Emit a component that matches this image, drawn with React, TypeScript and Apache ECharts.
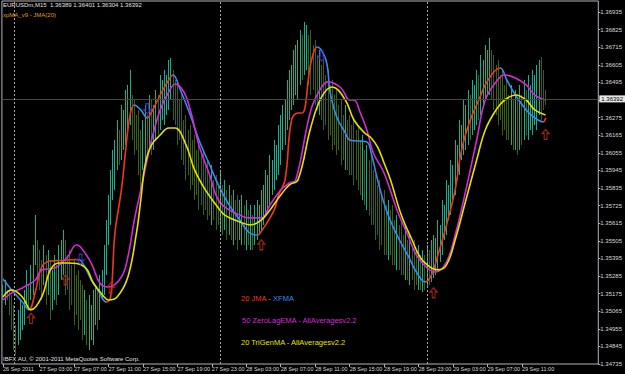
import React, { useEffect, useRef } from "react";
import * as echarts from "echarts";

// price = BASE + points * PT
const BASE = 1.3;
const PT = 0.00001;

// M15 bars, first bar = 26 Sep 22:45 (high / low, in points above 1.30000)
const barHighPts = [
  5229, 5260, 5198, 5198, 5166, 5104, 4979, 5073, 5135, 5104,
  5198, 5323, 5229, 5354, 5479, 5666, 5510, 5448, 5385, 5479,
  5416, 5448, 5385, 5323, 5416, 5354, 5479, 5510, 5573, 5510,
  5416, 5448, 5354, 5385, 5291, 5323, 5260, 5229, 5198, 5135,
  5166, 5104, 5198, 5229, 5198, 5291, 5323, 5479, 5635, 5791,
  5948, 6073, 6135, 6260, 6198, 6354, 6323, 6448, 6479, 6573,
  6416, 6385, 6291, 6323, 6198, 6260, 6354, 6291, 6416, 6385,
  6354, 6448, 6416, 6541, 6510, 6573, 6541, 6635, 6648, 6573,
  6510, 6479, 6385, 6416, 6260, 6291, 6198, 6229, 6135, 6166,
  6073, 6104, 6041, 6073, 5979, 6010, 5916, 5979, 5885, 5916,
  5854, 5948, 5854, 5885, 5823, 5854, 5791, 5823, 5760, 5791,
  5760, 5791, 5729, 5760, 5698, 5729, 5666, 5729, 5760, 5729,
  5823, 5854, 5948, 5916, 6041, 6010, 6135, 6104, 6229, 6291,
  6354, 6385, 6510, 6573, 6604, 6698, 6729, 6760, 6823, 6791,
  6873, 6854, 6791, 6823, 6729, 6760, 6666, 6698, 6604, 6635,
  6541, 6573, 6479, 6510, 6416, 6448, 6354, 6385, 6291, 6354,
  6260, 6291, 6229, 6260, 6198, 6229, 6135, 6166, 6073, 6104,
  6010, 6041, 5948, 5916, 5854, 5885, 5791, 5823, 5729, 5760,
  5698, 5729, 5635, 5666, 5604, 5635, 5541, 5604, 5510, 5541,
  5479, 5510, 5448, 5479, 5416, 5448, 5416, 5479, 5448, 5510,
  5541, 5523, 5635, 5604, 5760, 5729, 5885, 5854, 6010, 5979,
  6135, 6104, 6260, 6229, 6385, 6354, 6448, 6416, 6510, 6479,
  6573, 6541, 6666, 6635, 6729, 6698, 6773, 6698, 6666, 6604,
  6635, 6541, 6573, 6479, 6510, 6416, 6479, 6385, 6448, 6385,
  6479, 6416, 6510, 6448, 6541, 6479, 6573, 6541, 6604, 6635,
  6654, 6573, 6448,
];
const barLowPts = [
  5135, 5104, 5135, 5041, 4948, 4823, 4791, 4854, 4885, 4948,
  4979, 5104, 5073, 5135, 5166, 5354, 5260, 5198, 5135, 5229,
  5104, 5166, 5010, 5073, 5135, 5104, 5166, 5260, 5291, 5166,
  5198, 5073, 5104, 4979, 5041, 4948, 5010, 4885, 4916, 4854,
  4823, 4885, 4854, 4979, 4948, 5010, 5135, 5166, 5291, 5479,
  5604, 5760, 5823, 5948, 5979, 6010, 6073, 6104, 6166, 6229,
  6135, 6041, 6073, 5916, 5823, 5948, 5979, 6010, 6073, 6041,
  6073, 6135, 6166, 6198, 6260, 6229, 6291, 6323, 6385, 6260,
  6229, 6104, 6135, 6010, 5979, 5885, 5916, 5823, 5854, 5760,
  5791, 5698, 5729, 5666, 5698, 5635, 5666, 5604, 5635, 5573,
  5604, 5573, 5541, 5573, 5510, 5541, 5510, 5479, 5510, 5448,
  5510, 5479, 5479, 5448, 5479, 5448, 5448, 5479, 5510, 5541,
  5573, 5604, 5666, 5698, 5729, 5791, 5823, 5885, 5916, 5979,
  6073, 6104, 6198, 6260, 6323, 6354, 6416, 6385, 6479, 6510,
  6541, 6573, 6479, 6416, 6448, 6354, 6323, 6291, 6260, 6198,
  6229, 6135, 6166, 6073, 6104, 6041, 6073, 5979, 6010, 5948,
  5948, 5916, 5916, 5854, 5885, 5823, 5791, 5760, 5729, 5698,
  5666, 5604, 5604, 5510, 5541, 5448, 5479, 5416, 5416, 5385,
  5416, 5354, 5354, 5323, 5323, 5291, 5291, 5260, 5260, 5229,
  5260, 5198, 5229, 5198, 5198, 5185, 5198, 5210, 5229, 5248,
  5273, 5291, 5323, 5373, 5416, 5510, 5541, 5635, 5666, 5760,
  5791, 5885, 5916, 6010, 6041, 6073, 6104, 6135, 6166, 6198,
  6229, 6260, 6291, 6354, 6385, 6416, 6416, 6385, 6323, 6291,
  6229, 6260, 6166, 6198, 6135, 6135, 6104, 6073, 6073, 6041,
  6073, 6104, 6135, 6166, 6135, 6198, 6166, 6229, 6198, 6291,
  6260, 6323, 6354,
];

// 20 JMA - XFMA (red rising / blue falling)
const xfmaIdx = [0, 4, 9, 12, 15, 18, 22, 26, 30, 35, 38, 41, 44, 48, 50, 52, 55, 57, 59, 61, 64, 67, 69, 73, 77, 79, 82, 87, 91, 96, 100, 105, 110, 114, 118, 121, 126, 128, 131, 134, 137, 139, 143, 146, 150, 152, 155, 159, 161, 169, 171, 174, 178, 183, 188, 192, 196, 199, 202, 206, 210, 213, 217, 221, 224, 228, 231, 234, 238, 243, 247, 251, 252];
const xfmaPts = [5266, 5198, 5123, 5073, 5185, 5341, 5379, 5382, 5385, 5388, 5341, 5260, 5198, 5123, 5154, 5554, 5823, 6073, 6291, 6354, 6323, 6273, 6310, 6416, 6510, 6541, 6460, 6291, 6135, 5979, 5854, 5729, 5635, 5560, 5541, 5585, 5698, 5791, 5885, 6260, 6304, 6304, 6616, 6716, 6635, 6429, 6279, 6179, 6135, 6123, 6054, 5885, 5698, 5541, 5416, 5310, 5248, 5291, 5416, 5604, 5823, 6073, 6260, 6385, 6479, 6560, 6585, 6510, 6416, 6323, 6273, 6248, 6273];

// 50 ZeroLagEMA
const zlIdx = [0, 4, 9, 15, 18, 24, 30, 34, 36, 41, 45, 49, 55, 58, 61, 64, 66, 69, 73, 77, 80, 84, 87, 91, 96, 100, 105, 110, 114, 120, 124, 129, 133, 136, 143, 148, 151, 157, 161, 163, 166, 169, 172, 177, 183, 188, 192, 197, 201, 206, 210, 215, 220, 224, 229, 233, 238, 243, 247, 252];
const zlPts = [5135, 5179, 5210, 5260, 5323, 5335, 5404, 5479, 5466, 5366, 5241, 5216, 5279, 5404, 5635, 5823, 5948, 6135, 6323, 6435, 6485, 6435, 6323, 6104, 5916, 5760, 5698, 5666, 5648, 5648, 5729, 5823, 5866, 5885, 6323, 6466, 6498, 6460, 6385, 6385, 6304, 6198, 6054, 5929, 5698, 5541, 5416, 5335, 5310, 5373, 5541, 5823, 6135, 6385, 6498, 6541, 6523, 6479, 6416, 6385];

// 20 TriGenMA
const tgIdx = [0, 4, 9, 13, 18, 22, 26, 30, 38, 42, 47, 49, 53, 58, 62, 64, 66, 69, 73, 77, 80, 85, 89, 94, 99, 103, 110, 115, 120, 124, 129, 133, 137, 143, 148, 153, 159, 163, 168, 171, 174, 177, 180, 185, 190, 194, 199, 202, 206, 210, 215, 220, 224, 229, 233, 238, 243, 247, 252];
const tgPts = [5154, 5198, 5154, 5073, 5154, 5323, 5366, 5366, 5341, 5241, 5154, 5135, 5154, 5279, 5554, 5760, 5979, 6104, 6166, 6210, 6210, 6104, 5948, 5823, 5729, 5666, 5623, 5604, 5635, 5698, 5791, 5854, 5885, 6216, 6404, 6466, 6385, 6260, 6179, 6148, 6091, 5991, 5885, 5666, 5510, 5398, 5335, 5323, 5354, 5510, 5760, 6010, 6198, 6323, 6385, 6416, 6385, 6323, 6291];

// signal arrows
const upArrowIdx = [13, 29, 50, 120, 200, 252];
const upArrowPts = [5020, 5260, 5210, 5480, 5180, 6170];
const downArrowIdx = [36, 67, 148];
const downArrowPts = [5390, 6330, 6660];

const yTickLabels = ["1.34735", "1.34845", "1.34955", "1.35065", "1.35175", "1.35285", "1.35395", "1.35505", "1.35615", "1.35725", "1.35835", "1.35945", "1.36055", "1.36165", "1.36275", "", "1.36495", "1.36605", "1.36715", "1.36825", "1.36935"];
const timeLabels = ["27 Sep 03:00", "27 Sep 07:00", "27 Sep 11:00", "27 Sep 15:00", "27 Sep 19:00", "27 Sep 23:00", "28 Sep 03:00", "28 Sep 07:00", "28 Sep 11:00", "28 Sep 15:00", "28 Sep 19:00", "28 Sep 23:00", "29 Sep 03:00", "29 Sep 07:00", "29 Sep 11:00"];
const firstLabel = "26 Sep 2011";
const daySeparators = ["27 Sep 00:00", "28 Sep 00:00", "29 Sep 00:00"];
const currentPrice = 1.36392;
const slotCount = 277;

const RED = "#ee3a12";
const BLUE = "#2f8fee";
const MAGENTA = "#d42ad4";
const YELLOW = "#e6e000";
const UP = "#1bae8c";
const DOWN = "#3a5e1c";
const FONT = "Liberation Sans";

const pad = (n: number) => (n < 10 ? "0" + n : "" + n);
const categories: string[] = [];
for (let i = 0; i < slotCount; i++) {
  const m = 22 * 60 + 45 + 15 * i;
  const d = 26 + Math.floor(m / 1440);
  const mm = m % 1440;
  categories.push(`${d} Sep ${pad(Math.floor(mm / 60))}:${pad(mm % 60)}`);
}

const toPrice = (p: number) => +(BASE + p * PT).toFixed(5);

export default function App() {
  const ref = useRef<HTMLDivElement>(null);
  useEffect(() => {
    document.body.style.margin = "0";
    document.body.style.background = "#000";
    const chart = echarts.init(ref.current!, null, { renderer: "svg" });

    const upBars: number[][] = [];
    const downBars: number[][] = [];
    barHighPts.forEach((h, i) => {
      const lo = barLowPts[i];
      const mid = (h + lo) / 2;
      const prev = i > 0 ? (barHighPts[i - 1] + barLowPts[i - 1]) / 2 : mid;
      (mid >= prev ? upBars : downBars).push([i, toPrice(lo), toPrice(h)]);
    });

    const barSeries = (data: number[][], color: string) => ({
      type: "custom",
      yAxisIndex: 0,
      data,
      encode: { x: 0, y: [1, 2] },
      itemStyle: { color },
      z: 1,
      renderItem: (params: any, api: any) => {
        const i = api.value(0);
        const lo = api.coord([i, api.value(1)]);
        const hi = api.coord([i, api.value(2)]);
        return {
          type: "rect",
          shape: { x: Math.round(lo[0] - 0.5), y: hi[1], width: 1, height: Math.max(1, lo[1] - hi[1]) },
          style: { fill: api.visual("color") },
        };
      },
    });

    const xfmaPieces: any[] = [];
    for (let k = 1; k < xfmaIdx.length; k++) {
      const rising = xfmaPts[k] >= xfmaPts[k - 1];
      const last = k === xfmaIdx.length - 1;
      xfmaPieces.push(
        last
          ? { gte: xfmaIdx[k - 1], lte: xfmaIdx[k] + 1, color: rising ? RED : BLUE }
          : { gte: xfmaIdx[k - 1], lt: xfmaIdx[k], color: rising ? RED : BLUE }
      );
    }

    const showLabel = (idx: number, val: string) => idx === 0 || timeLabels.includes(val);
    const arrowPath = "path://M5,0 L10,5 L7,5 L7,12 L3,12 L3,5 L0,5 Z";

    const option: any = {
      animation: false,
      backgroundColor: "#000",
      textStyle: { fontFamily: FONT },
      grid: { left: 0, top: 1, width: 604, height: 363, show: true, borderColor: "#b4b4b4", borderWidth: 1, backgroundColor: "#000" },
      xAxis: {
        type: "category",
        data: categories,
        boundaryGap: true,
        axisLine: { show: false },
        axisTick: { show: true, interval: showLabel, alignWithLabel: true, length: 3, lineStyle: { color: "#b4b4b4" } },
        axisLabel: {
          interval: showLabel,
          formatter: (v: string) => (v === categories[0] ? firstLabel : v),
          color: "#d8d8d8",
          fontSize: 5.5,
          fontFamily: FONT,
          align: "left",
          margin: 2,
        },
        splitLine: { show: false },
      },
      yAxis: [
        { type: "value", min: toPrice(4735), max: 1.3700375, show: false },
        {
          type: "value",
          min: 0,
          max: 20.625,
          interval: 1,
          position: "right",
          axisLine: { show: false },
          axisTick: { show: true, length: 2, lineStyle: { color: "#b4b4b4" } },
          axisLabel: {
            showMaxLabel: false,
            formatter: (v: number) => yTickLabels[Math.round(v)] ?? "",
            color: "#d8d8d8",
            fontSize: 6,
            fontFamily: FONT,
            margin: 2,
          },
          splitLine: { show: false },
        },
      ],
      visualMap: [
        { type: "piecewise", show: false, dimension: 0, seriesIndex: 2, pieces: xfmaPieces },
      ],
      series: [
        barSeries(upBars, UP),
        barSeries(downBars, DOWN),
        {
          type: "line",
          yAxisIndex: 0,
          data: xfmaIdx.map((i, k) => [i, toPrice(xfmaPts[k])]),
          smooth: 0.4,
          showSymbol: false,
          lineStyle: { width: 1.6 },
          z: 3,
        },
        {
          type: "line",
          yAxisIndex: 0,
          data: zlIdx.map((i, k) => [i, toPrice(zlPts[k])]),
          smooth: 0.4,
          showSymbol: false,
          lineStyle: { width: 1.6, color: MAGENTA },
          itemStyle: { color: MAGENTA },
          z: 3,
        },
        {
          type: "line",
          yAxisIndex: 0,
          data: tgIdx.map((i, k) => [i, toPrice(tgPts[k])]),
          smooth: 0.4,
          showSymbol: false,
          lineStyle: { width: 1.6, color: YELLOW },
          itemStyle: { color: YELLOW },
          z: 4,
          markLine: {
            silent: true,
            precision: 5,
            symbol: ["none", "none"],
            data: [
              {
                yAxis: currentPrice,
                lineStyle: { color: "#3e4c3e", width: 1, type: "solid" },
                label: {
                  show: true,
                  position: "end",
                  formatter: currentPrice.toFixed(5),
                  color: "#000",
                  backgroundColor: "#e6e6e6",
                  fontSize: 6,
                  fontFamily: FONT,
                  padding: [1, 2, 0, 2],
                  distance: 1,
                },
              },
              ...daySeparators.map((d) => ({
                xAxis: d,
                lineStyle: { color: "#a8a8a8", width: 1, type: [2, 2] },
                label: { show: false },
              })),
            ],
          },
        },
        {
          type: "scatter",
          yAxisIndex: 0,
          data: upArrowIdx.map((i, k) => [i, toPrice(upArrowPts[k])]),
          symbol: arrowPath,
          symbolSize: [7, 10],
          itemStyle: { color: "rgba(0,0,0,0)", borderColor: "#c8281a", borderWidth: 1.2 },
          z: 5,
        },
        {
          type: "scatter",
          yAxisIndex: 0,
          data: downArrowIdx.map((i, k) => [i, toPrice(downArrowPts[k])]),
          symbol: arrowPath,
          symbolRotate: 180,
          symbolSize: [7, 10],
          itemStyle: { color: "rgba(0,0,0,0)", borderColor: "#4a3ad8", borderWidth: 1.2 },
          z: 5,
        },
      ],
      graphic: [
        { type: "text", left: 3, top: 2, style: { text: "EURUSDm,M15  1.36389 1.36401 1.36304 1.36392", fill: "#e0e0e0", font: `6px ${FONT}` } },
        { type: "text", left: 3, top: 12, style: { text: "xpMA_v9 - JMA(20)", fill: "#e09a1a", font: `6px ${FONT}` } },
        {
          type: "text",
          left: 241,
          top: 294,
          style: {
            text: "{r|20 JMA}{g| - }{b|XFMA}",
            font: `7.5px ${FONT}`,
            rich: { r: { fill: RED, fontSize: 7.5 }, g: { fill: "#a0a0a0", fontSize: 7.5 }, b: { fill: BLUE, fontSize: 7.5 } },
          },
        },
        { type: "text", left: 242, top: 316, style: { text: "50 ZeroLagEMA - AllAveragesv2.2", fill: MAGENTA, font: `7.5px ${FONT}` } },
        { type: "text", left: 241, top: 338, style: { text: "20 TriGenMA - AllAveragesv2.2", fill: YELLOW, font: `7.5px ${FONT}` } },
        { type: "text", left: 3, top: 356, style: { text: "IBFX AU, \u00a9 2001-2011 MetaQuotes Software Corp.", fill: "#e0e0e0", font: `6px ${FONT}` } },
      ],
    };
    chart.setOption(option);
    return () => chart.dispose();
  }, []);
  return <div ref={ref} style={{ position: "fixed", left: 0, top: 0, width: 625, height: 374, background: "#000" }} />;
}
